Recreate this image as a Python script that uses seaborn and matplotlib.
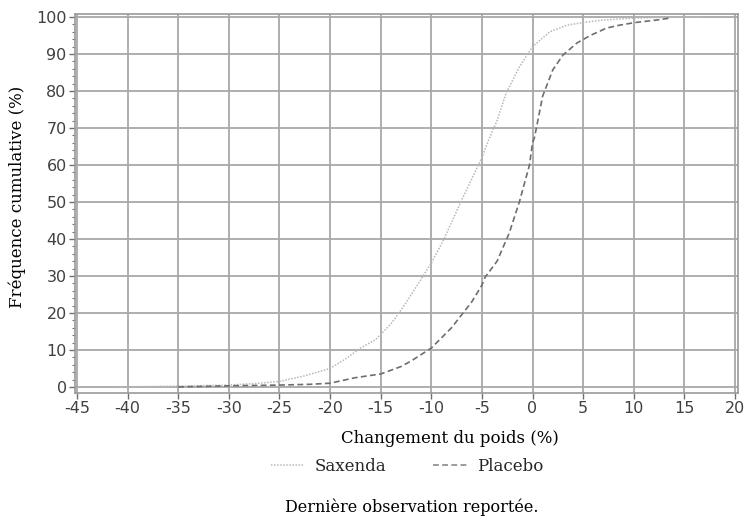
import numpy as np
import pandas as pd
import matplotlib
matplotlib.use("Agg")
import matplotlib.pyplot as plt
import seaborn as sns
from matplotlib.ticker import MultipleLocator
from matplotlib.lines import Line2D

saxenda_change = [-41, -35, -30, -27, -25, -22.5, -20, -18.5, -17, -15.5, -14, -12.8, -11.5,
                  -10, -8.8, -7, -5, -4.3, -3.5, -2.6, -1.3, 0, 1.7, 3.4, 5, 7, 10, 13, 16.5]
saxenda_cum = [0, 0.2, 0.5, 1, 1.5, 3, 5, 7.5, 10.5, 12.8, 17, 21.5, 27,
               33.5, 39.7, 50.5, 62, 67, 72, 79.5, 86.5, 92, 96, 97.8, 98.5, 99.2, 99.7, 99.9, 100]

placebo_change = [-35, -30, -25, -22, -20, -17.5, -15, -13, -12, -10, -8, -6, -5, -4.7,
                  -3.5, -2.3, -1.3, -0.3, 0, 0.2, 1, 2, 3, 4.4, 5.7, 7.3, 8.6, 10.1, 12.6, 13.5]
placebo_cum = [0, 0.3, 0.5, 0.7, 1, 2.5, 3.5, 5.5, 7, 10.5, 16, 23, 27.5, 29.6,
               34, 41.6, 50, 60, 66, 67.5, 78.6, 85.7, 89.7, 93, 95, 97, 97.8, 98.5, 99.3, 99.7]

x_ticks = list(range(-45, 21, 5))
y_ticks = list(range(0, 101, 10))

sns.set_theme(style="whitegrid")
plt.rcParams['font.family'] = ['DejaVu Sans']
plt.rcParams['axes.unicode_minus'] = False

fig = plt.figure(figsize=(7.5, 5.21), dpi=100)
ax = fig.add_axes([0.1, 0.246, 0.884, 0.727])

df_s = pd.DataFrame({"x": saxenda_change, "y": saxenda_cum})
df_p = pd.DataFrame({"x": placebo_change, "y": placebo_cum})

sns.lineplot(data=df_s, x="x", y="y", ax=ax, color="#b8b8b8", lw=1.1,
             linestyle=(0, (1, 1)), sort=False, zorder=3)
sns.lineplot(data=df_p, x="x", y="y", ax=ax, color="#6e6e6e", lw=1.2,
             linestyle=(0, (3.5, 2)), sort=False, zorder=3)

ax.set_xlim(-45.2, 20.3)
ax.set_ylim(-1.6, 100.8)
ax.set_xticks(x_ticks)
ax.set_yticks(y_ticks)
ax.yaxis.set_minor_locator(MultipleLocator(2))

ax.set_facecolor("white")
ax.grid(True, which="major", color="#a8a8a8", lw=1.3)
ax.grid(False, which="minor")
for s in ax.spines.values():
    s.set_color("#9a9a9a")
    s.set_linewidth(1.2)

ax.tick_params(axis="both", which="major", length=4, width=1, color="#707070",
               labelsize=11.5, labelcolor="#404040", pad=2, left=True, bottom=True)
ax.tick_params(axis="y", which="minor", length=2, width=0.8, color="#707070", left=True)

serif = ["DejaVu Serif"]
ax.set_xlabel("Changement du poids (%)", fontsize=12, family=serif, color="black")
ax.xaxis.set_label_coords(0.566, -0.098)
ax.set_ylabel("Fréquence cumulative (%)", fontsize=12, family=serif, color="black")
ax.yaxis.set_label_coords(-0.074, 0.517)

handles = [Line2D([], [], color="#b8b8b8", lw=1.1, linestyle=(0, (1, 1))),
           Line2D([], [], color="#8a8a8a", lw=1.2, linestyle=(0, (3.5, 2)))]
fig.legend(handles, ["Saxenda", "Placebo"], loc="center", bbox_to_anchor=(0.543, 0.104),
           ncol=2, frameon=False, prop={"family": serif, "size": 12},
           handlelength=2.0, columnspacing=2.8, handletextpad=0.66)

fig.text(0.549, 0.027, "Dernière observation reportée.", ha="center", va="center",
         family=serif, fontsize=11.5, color="black")

fig.savefig("out.png", dpi=100)
